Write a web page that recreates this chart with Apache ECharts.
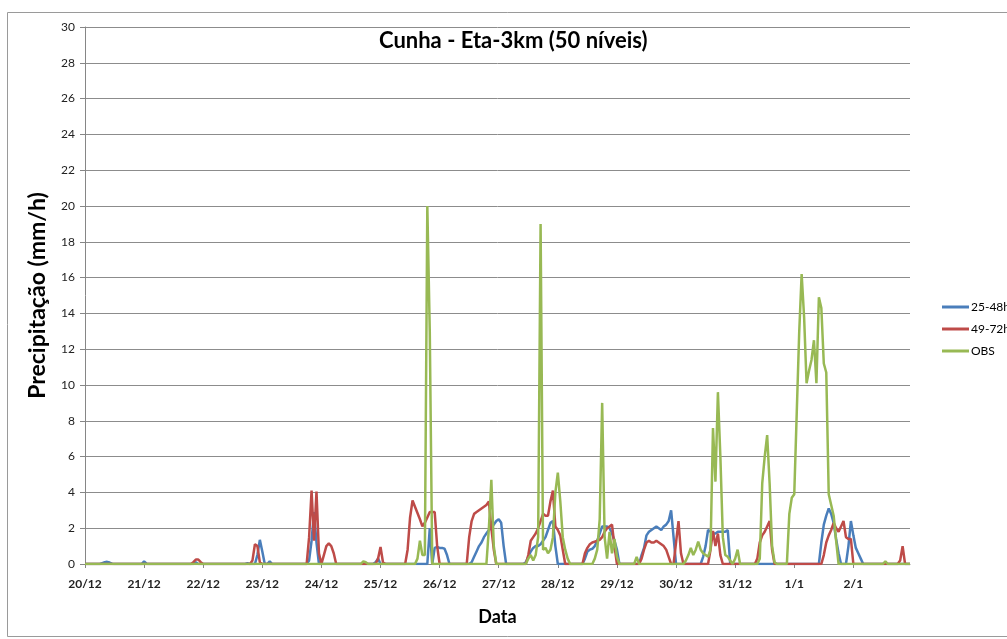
<!DOCTYPE html>
<html>
<head>
<meta charset="utf-8">
<title>Cunha - Eta-3km (50 níveis)</title>
<script src="https://cdn.jsdelivr.net/npm/echarts@6/dist/echarts.min.js"></script>
<style>
  html, body { margin: 0; padding: 0; background: #fff; }
  #chart { width: 1007px; height: 639px; }
</style>
</head>
<body>
<div id="chart"></div>
<script>
// tick labels (one per day, 24 hourly values each)
const dayLabels = ['20/12', '21/12', '22/12', '23/12', '24/12', '25/12', '26/12',
  '27/12', '28/12', '29/12', '30/12', '31/12', '1/1', '2/1'];

const yTicks = [0, 2, 4, 6, 8, 10, 12, 14, 16, 18, 20, 22, 24, 26, 28, 30];

// 25-48h forecast, mm/h, one row per day
const fc2548 = [
  0,0,0,0,0,0,0,0.05,0.1,0.12,0.08,0.02,0,0,0,0,0,0,0,0,0,0,0,0,
  0.15,0.02,0,0,0,0,0,0,0,0,0,0,0,0,0,0,0,0,0,0,0,0.1,0,0,
  0,0,0,0,0,0,0,0,0,0,0,0,0,0,0,0,0,0,0.05,0,0,0,0.5,1.35,
  0.7,0,0,0.15,0,0,0,0,0,0,0,0,0,0,0,0,0,0,0,0.2,1.3,2.9,1.2,0,
  0,0,0,0,0,0,0,0,0,0,0,0,0,0,0,0,0,0,0,0,0,0,0.1,0.3,
  0,0,0,0,0,0,0,0,0,0,0,0,0,0,0,0,0,0,0,0,2.0,0,0.9,0.95,
  0.9,0.9,0.85,0.5,0,0,0,0,0,0,0,0,0,0.1,0.4,0.7,1.0,1.2,1.5,1.7,1.9,2.0,2.2,2.4,
  2.5,2.3,1.0,0,0,0,0,0,0,0,0,0.1,0.4,0.7,0.9,1.0,1.0,1.1,1.3,1.5,1.9,2.3,2.4,1.0,
  0,0,0,0,0,0,0,0,0,0,0,0.3,0.7,0.8,0.85,1.0,1.3,1.7,2.1,2.1,2.1,2.0,1.7,1.3,
  0.8,0,0,0,0,0,0,0,0,0,0.5,0.9,1.6,1.8,1.9,2.0,2.1,2.0,1.9,2.1,2.2,2.4,3.0,1.5,
  0,0,0,0,0,0,0,0,0,0,0,0.4,1.0,1.9,1.8,1.7,1.7,1.8,1.8,1.8,1.8,1.9,0,0,
  0,0,0,0,0,0,0,0,0,0,0,0,0,0,0,0,0,0,0,0,0,0,0,0,
  0,0,0,0,0,0,0,0,0,0,0,1.2,2.2,2.7,3.1,2.8,2.3,1.4,0.6,0,0,0,1.0,2.4,
  1.6,0.9,0.6,0.3,0,0,0,0,0,0,0,0,0,0,0,0,0,0,0,0,0,0,0,0
];

// 49-72h forecast, mm/h
const fc4972 = [
  0,0,0,0,0,0,0,0,0,0,0,0,0,0,0,0,0,0,0,0,0,0,0,0,
  0,0,0,0,0,0,0,0,0,0,0,0,0,0,0,0,0,0,0,0,0.1,0.25,0.25,0.1,
  0,0,0,0,0,0,0,0,0,0,0,0,0,0,0,0,0,0,0,0,0.2,1.1,1.0,0.1,
  0,0,0,0,0,0,0,0,0,0,0,0,0,0,0,0,0,0,0,1.5,4.1,1.3,4.05,0.6,
  0,0.5,1.0,1.15,1.0,0.6,0,0,0,0,0,0,0,0,0,0,0,0,0,0,0,0,0,0.3,
  0.95,0.1,0,0,0,0,0,0,0,0,0,0.8,2.6,3.55,3.2,2.85,2.5,2.1,2.3,2.6,2.9,2.9,2.9,1.0,
  0,0,0,0,0,0,0,0,0,0,0,0,1.5,2.4,2.8,2.9,3.0,3.1,3.2,3.3,3.5,2.0,0.8,0,
  0,0,0,0,0,0,0,0,0,0,0,0,0.5,1.3,1.5,1.7,2.0,2.4,2.8,2.7,2.7,3.5,4.1,2.1,
  1.9,1.6,0.8,0,0,0,0,0,0,0,0,0.6,0.9,1.1,1.2,1.25,1.3,1.35,1.5,1.8,2.0,2.1,2.2,1.0,
  0,0,0,0,0,0,0,0,0,0,0.3,0.8,1.2,1.3,1.2,1.2,1.3,1.2,1.1,1.0,0.8,0.4,0,0,
  1.2,2.4,0.6,0,0,0,0,0,0,0,0,0,0,0,0.8,1.85,1.0,1.7,0.5,0,0,0,0,0,
  0,0,0,0,0,0,0,0,0,0.3,1.2,1.6,1.8,2.1,2.4,0.8,0,0,0,0,0,0,0,0,
  0,0,0,0,0,0,0,0,0,0,0,0,0.5,1.2,1.6,1.9,2.3,2.0,1.8,2.1,2.4,1.5,1.4,1.4,
  0,0,0,0,0,0,0,0,0,0,0,0,0,0,0,0,0,0,0,0.2,1.0,0,0,0
];

// observed, mm/h
const obs = [
  0,0,0,0,0,0,0,0,0,0,0,0,0,0,0,0,0,0,0,0,0,0,0,0,
  0,0,0,0,0,0,0,0,0,0,0,0,0,0,0,0,0,0,0,0,0,0,0,0,
  0,0,0,0,0,0,0,0,0,0,0,0,0,0,0,0,0,0,0,0,0,0,0,0,
  0,0,0,0,0,0,0,0,0,0,0,0,0,0,0,0,0,0,0,0,0,0,0,0,
  0,0,0,0,0,0,0,0,0,0,0,0,0,0,0,0,0,0.15,0.1,0,0,0,0,0,
  0,0,0,0,0,0,0,0,0,0,0,0,0,0,0,0.3,1.3,0.5,0.5,20,13,0,0,0,
  0,0,0,0,0,0,0,0,0,0,0,0,0,0,0,0,0,0,0,0,2.0,4.7,1.0,0,
  0,0,0,0,0,0,0,0,0,0,0,0,0.3,0.5,0.2,0.5,1.5,19,0.8,0.9,0.6,0.8,1.5,4.0,
  5.1,3.5,1.5,0.8,0.3,0,0,0,0,0,0,0,0,0,0,0.3,0.8,2.5,9.0,1.5,0.3,1.8,0.6,1.4,
  0.4,0,0,0,0,0,0,0,0.4,0,0,0,0,0,0,0,0,0,0,0,0,0,0,0,
  0,0,0,0,0.2,0.5,0.9,0.5,0.8,1.25,0.8,0.6,0.5,0.4,0.8,7.6,4.6,9.6,6.0,1.5,0.5,0.4,0.2,0,
  0.3,0.8,0,0,0,0,0,0,0,0,0.3,4.5,6.0,7.2,4.5,1.0,0.1,0,0,0,0,0,2.8,3.7,
  3.9,8.4,12.9,16.2,13.8,10.1,10.8,11.4,12.5,10.1,14.9,14.3,11.2,10.7,3.9,3.3,2.7,1.3,0,0,0,0,0,0,
  0,0,0,0,0,0,0,0,0,0,0,0,0,0.15,0,0,0,0,0,0,0,0,0,0
];

const seriesNames = ['25-48h', '49-72h', 'OBS'];
const seriesColors = ['#4A7EBB', '#BE4B48', '#98B954'];

// hourly categories, labelled once per day
const categories = [];
dayLabels.forEach(d => {
  for (let h = 0; h < 24; h++) categories.push(d + ' ' + h + 'h');
});
const dayStart = (i) => i % 24 === 0;

const font = 'Lato, "Open Sans", sans-serif';
const chart = echarts.init(document.getElementById('chart'));

chart.setOption({
  backgroundColor: '#fff',
  animation: false,
  textStyle: { fontFamily: font },
  title: {
    text: 'Cunha - Eta-3km (50 níveis)',
    left: 374,
    top: 25,
    textStyle: { fontFamily: font, fontSize: 22, fontWeight: 'bold', color: '#000' }
  },
  legend: {
    orient: 'vertical',
    left: 937,
    top: 296,
    itemWidth: 27,
    itemHeight: 3,
    itemGap: 10,
    icon: 'rect',
    data: seriesNames,
    textStyle: { fontFamily: font, fontSize: 12, color: '#000', padding: [0, 0, 0, -3] }
  },
  graphic: [{
    type: 'rect',
    shape: { x: 7.5, y: 12.5, width: 1010, height: 624 },
    style: { fill: 'none', stroke: '#9a9a9a', lineWidth: 1 },
    silent: true
  }],
  grid: { left: 85, right: 97, top: 27, bottom: 75 },
  xAxis: {
    type: 'category',
    data: categories,
    boundaryGap: false,
    name: 'Data',
    nameLocation: 'middle',
    nameGap: 44,
    nameTextStyle: { fontFamily: font, fontSize: 18, fontWeight: 'bold', color: '#000' },
    axisLine: { lineStyle: { color: '#868686', width: 1 } },
    axisTick: { show: true, interval: dayStart, length: 4, lineStyle: { color: '#868686' } },
    axisLabel: {
      interval: dayStart,
      formatter: (v) => v.split(' ')[0],
      margin: 14,
      fontFamily: font,
      fontSize: 12,
      fontWeight: 'bold',
      color: '#222'
    },
    splitLine: { show: false }
  },
  yAxis: {
    type: 'value',
    min: yTicks[0],
    max: yTicks[yTicks.length - 1],
    interval: 2,
    name: 'Precipitação (mm/h)',
    nameLocation: 'middle',
    nameGap: 36,
    nameRotate: 90,
    nameTextStyle: { fontFamily: font, fontSize: 23, fontWeight: 'bold', color: '#000' },
    axisLine: { show: true, lineStyle: { color: '#868686', width: 1 } },
    axisTick: { show: true, length: 5, lineStyle: { color: '#868686' } },
    axisLabel: { fontFamily: font, fontSize: 12, color: '#222', margin: 10 },
    splitLine: { lineStyle: { color: '#8c8c8c', width: 1 } }
  },
  series: [fc2548, fc4972, obs].map((vals, i) => ({
    name: seriesNames[i],
    type: 'line',
    data: vals,
    symbol: 'none',
    color: seriesColors[i],
    lineStyle: { width: 2.5, color: seriesColors[i] },
    z: 2 + i
  }))
});
</script>
</body>
</html>
